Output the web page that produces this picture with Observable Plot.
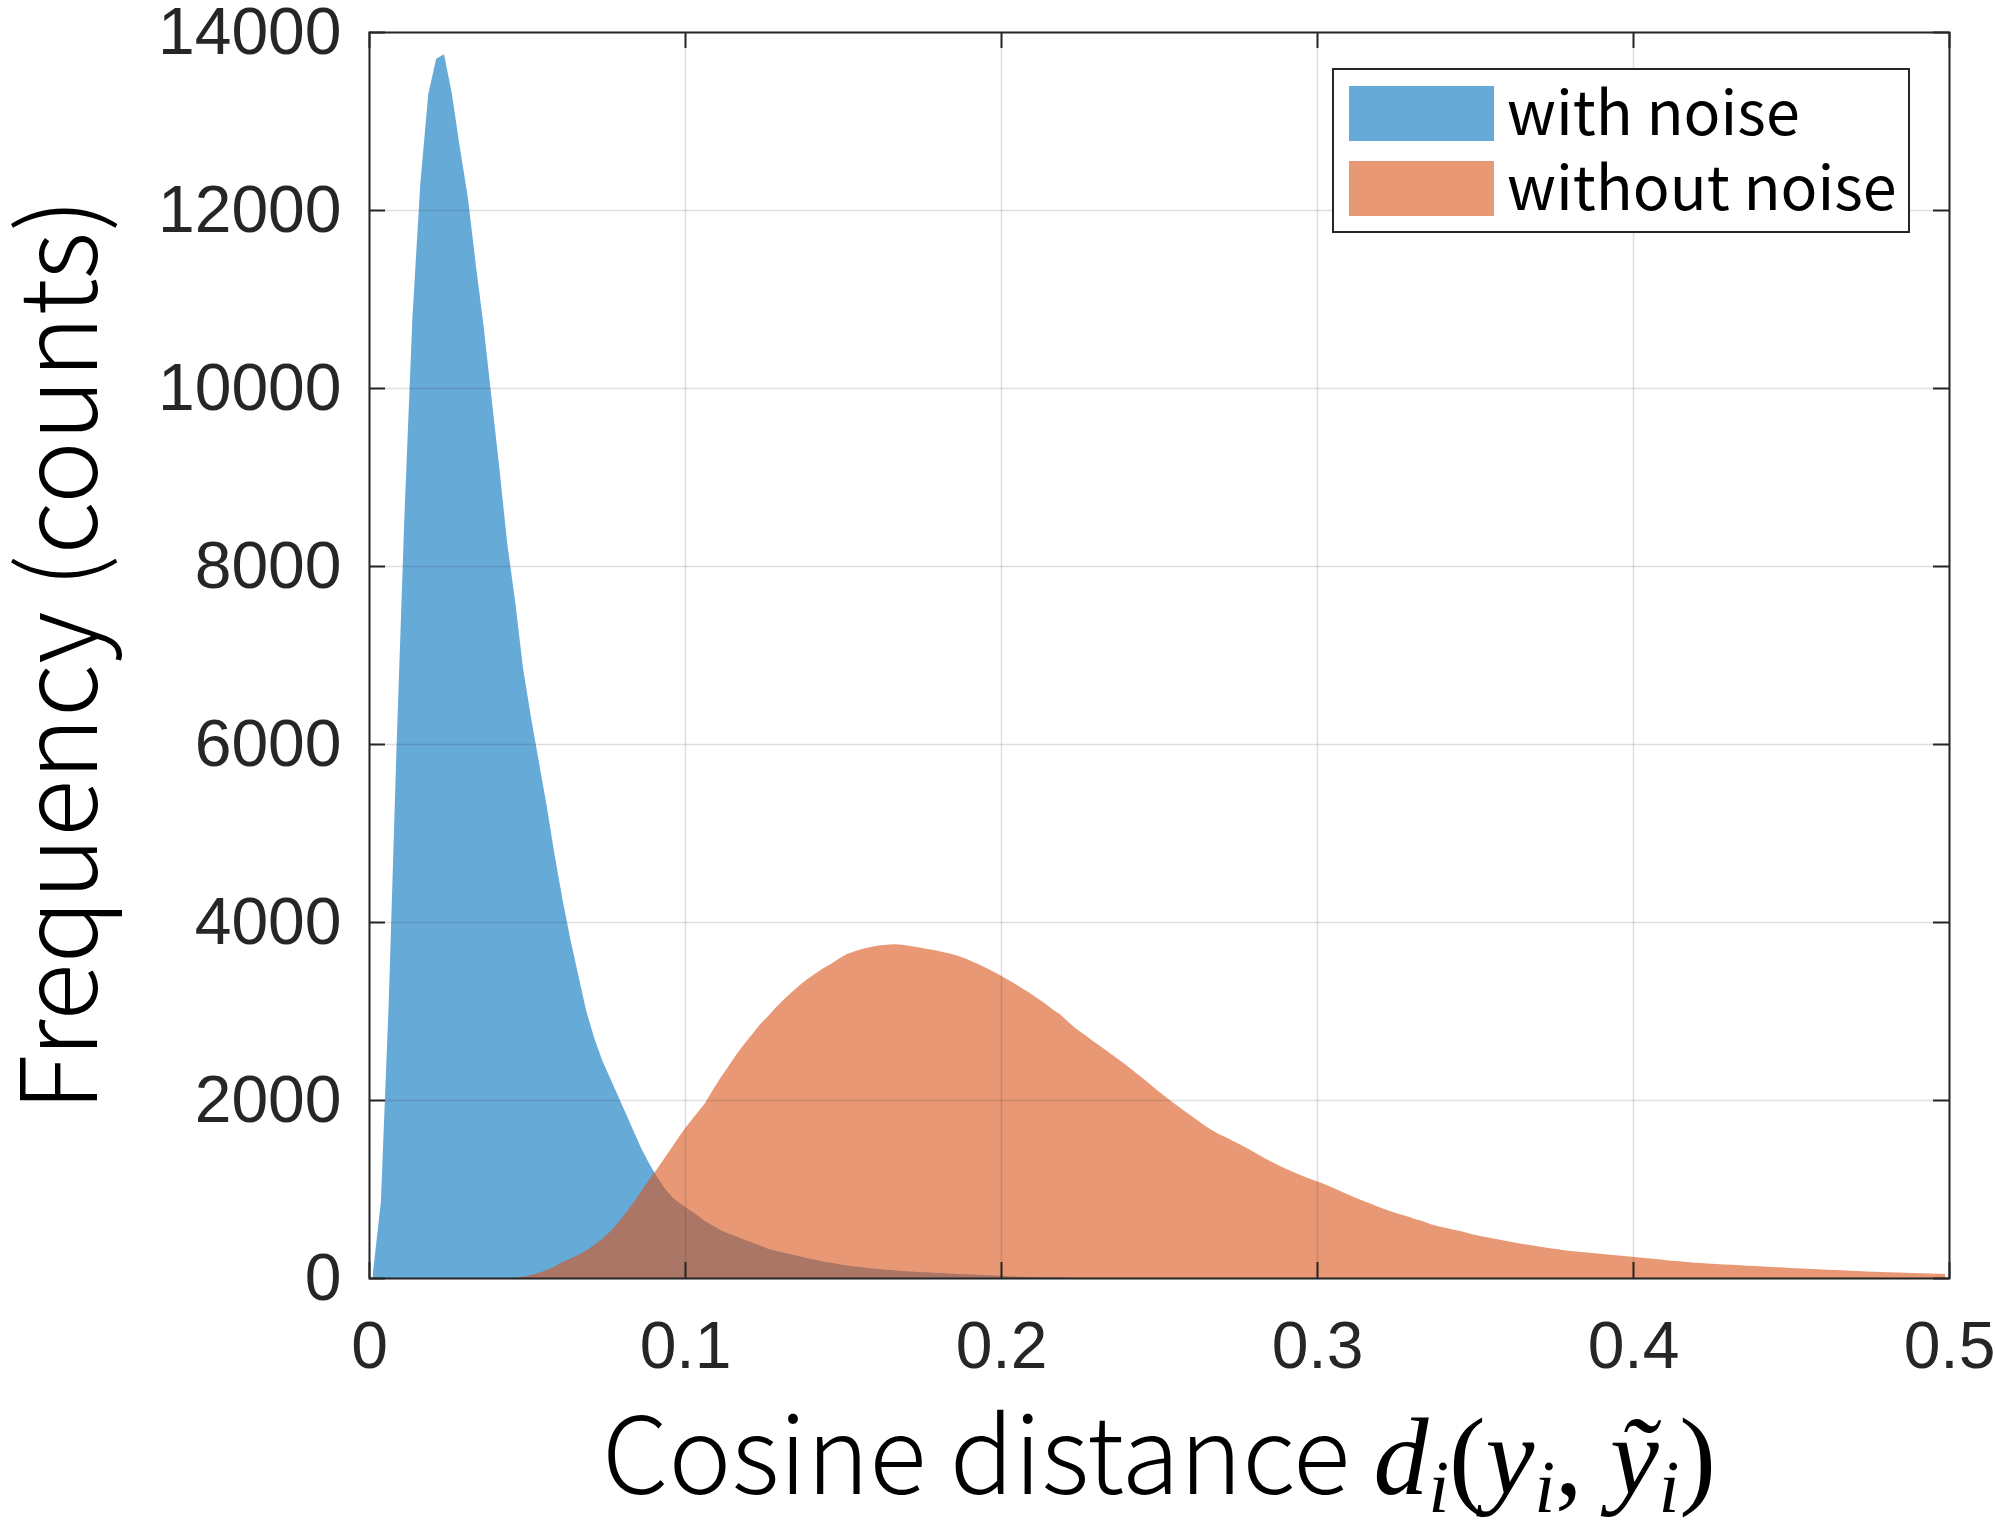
<!DOCTYPE html>
<html>
<head>
<meta charset="utf-8">
<script src="https://cdn.jsdelivr.net/npm/d3@7"></script>
<script src="https://cdn.jsdelivr.net/npm/@observablehq/plot@0.6"></script>
<style>
  html, body { margin: 0; padding: 0; background: #fff; overflow: hidden; }
</style>
</head>
<body>
<div id="chart"></div>
<script>
// ---------------- data ----------------
const binWidth = 0.0025; // histogram bin width in cosine distance

// counts per bin, bin i covers [i*binWidth, (i+1)*binWidth)
const withNoise = [
  60, 850, 3100, 6000, 8600, 10800, 12300, 13300, 13700, 13750,
  13300, 12700, 12150, 11400, 10700, 9900, 9100, 8250, 7600, 6850,
  6300, 5800, 5300, 4750, 4250, 3800, 3400, 3000, 2700, 2450,
  2250, 2050, 1850, 1650, 1450, 1280, 1130, 1000, 900, 830,
  770, 710, 640, 590, 540, 500, 465, 430, 400, 365,
  330, 305, 285, 265, 245, 222, 205, 185, 170, 155,
  140, 130, 120, 110, 100, 92, 86, 80, 74, 68,
  64, 60, 55, 50, 46, 42, 38, 34, 30, 26,
  22, 18, 15, 12, 10, 8, 6, 5, 4, 3,
  2
];

const withoutNoise = [
  0, 0, 0, 0, 0, 0, 0, 0, 0, 0,
  0, 0, 0, 0, 0, 0, 0, 0, 0, 15,
  35, 60, 90, 130, 180, 220, 260, 310, 370, 440,
  520, 620, 730, 850, 980, 1110, 1230, 1360, 1490, 1620,
  1740, 1850, 1960, 2110, 2250, 2380, 2510, 2630, 2740, 2850,
  2940, 3040, 3130, 3210, 3290, 3360, 3420, 3480, 3530, 3590,
  3640, 3670, 3700, 3720, 3735, 3745, 3750, 3745, 3730, 3715,
  3700, 3685, 3665, 3645, 3620, 3590, 3550, 3510, 3465, 3420,
  3370, 3320, 3265, 3210, 3150, 3090, 3020, 2960, 2880, 2800,
  2740, 2670, 2610, 2545, 2480, 2415, 2345, 2275, 2205, 2130,
  2060, 1990, 1925, 1860, 1795, 1730, 1670, 1620, 1580, 1535,
  1490, 1440, 1390, 1340, 1295, 1250, 1210, 1170, 1135, 1100,
  1070, 1035, 995, 955, 915, 880, 845, 810, 775, 745,
  715, 690, 660, 635, 600, 580, 560, 540, 520, 495,
  475, 458, 440, 425, 408, 390, 376, 362, 348, 335,
  322, 310, 300, 292, 284, 275, 266, 258, 250, 242,
  234, 225, 216, 207, 198, 190, 182, 175, 168, 162,
  157, 152, 148, 143, 138, 134, 128, 124, 120, 115,
  110, 106, 102, 98, 94, 90, 86, 82, 78, 74,
  71, 68, 64, 61, 58, 55, 52, 50, 48, 45
];

const seriesNames = ["with noise", "without noise"];
const seriesColors = ["#0072BD", "#D95319"];
const xTicks = [0, 0.1, 0.2, 0.3, 0.4, 0.5];
const yTicks = [0, 2000, 4000, 6000, 8000, 10000, 12000, 14000];
const xLabelText = "Cosine distance ";
const yLabelText = "Frequency (counts)";

// ---------------- layout ----------------
const W = 1995, H = 1525;
const mL = 369, mR = 46, mT = 32, mB = 247;
const innerW = W - mL - mR, innerH = H - mT - mB;
const tickLen = 16;
const axisColor = "#262626";

const toRows = (arr) => {
  const rows = arr.map((v, i) => ({ d: (i + 0.5) * binWidth, count: v }));
  const first = rows.findIndex(r => r.count > 0);
  return rows.slice(Math.max(0, first - 1));
};

const plot = Plot.plot({
  width: W, height: H,
  marginLeft: mL, marginRight: mR, marginTop: mT, marginBottom: mB,
  x: { domain: [0, 0.5] },
  y: { domain: [0, 14000] },
  style: {
    fontFamily: "'Liberation Sans', Arial, sans-serif",
    fontSize: "66px",
    color: axisColor,
    background: "#fff",
    overflow: "visible"
  },
  marks: [
    Plot.areaY(toRows(withNoise), { x: "d", y: "count", fill: seriesColors[0], fillOpacity: 0.6, curve: "linear" }),
    Plot.areaY(toRows(withoutNoise), { x: "d", y: "count", fill: seriesColors[1], fillOpacity: 0.6, curve: "linear" }),
    Plot.ruleX(xTicks, { x: d => d, stroke: axisColor, strokeOpacity: 0.15, strokeWidth: 1.5 }),
    Plot.ruleY(yTicks, { y: d => d, stroke: axisColor, strokeOpacity: 0.15, strokeWidth: 1.5 }),
    Plot.tickX(xTicks, { x: d => d, insetTop: innerH - tickLen, stroke: axisColor, strokeWidth: 2 }),
    Plot.tickX(xTicks, { x: d => d, insetBottom: innerH - tickLen, stroke: axisColor, strokeWidth: 2 }),
    Plot.tickY(yTicks, { y: d => d, insetRight: innerW - tickLen, stroke: axisColor, strokeWidth: 2 }),
    Plot.tickY(yTicks, { y: d => d, insetLeft: innerW - tickLen, stroke: axisColor, strokeWidth: 2 }),
    Plot.frame({ stroke: axisColor, strokeWidth: 2 }),
    Plot.axisX(xTicks, { anchor: "bottom", tickSize: 0, tickPadding: 43, tickFormat: d => String(d), label: null, fill: axisColor }),
    Plot.axisY(yTicks, { anchor: "left", tickSize: 0, tickPadding: 28, tickFormat: d => String(d), label: null, fill: axisColor })
  ]
});

document.getElementById("chart").appendChild(plot);

// ---------------- axis titles & legend ----------------
const svg = d3.select(plot);
const labelFont = "'Noto Sans CJK JP', 'Noto Sans', sans-serif";
const mathFont = "'Liberation Serif', 'DejaVu Serif', serif";

svg.append("text")
  .attr("transform", `translate(97,${mT + innerH / 2}) rotate(-90)`)
  .attr("text-anchor", "middle")
  .attr("font-family", labelFont)
  .attr("font-weight", 300)
  .attr("font-size", 106)
  .attr("fill", "#000")
  .text(yLabelText);

const xt = svg.append("text")
  .attr("x", mL + innerW / 2)
  .attr("y", 1494)
  .attr("text-anchor", "middle")
  .attr("font-family", labelFont)
  .attr("font-weight", 300)
  .attr("font-size", 106)
  .attr("fill", "#000");
xt.append("tspan").text(xLabelText);
const mathParts = [
  { t: "d", it: true }, { t: "i", it: true, sub: true },
  { t: "(" }, { t: "y", it: true }, { t: "i", it: true, sub: true },
  { t: ", " }, { t: "\u1EF9", it: true }, { t: "i", it: true, sub: true },
  { t: ")" }
];
let shifted = false;
for (const p of mathParts) {
  const ts = xt.append("tspan")
    .attr("font-family", mathFont)
    .attr("font-style", p.it ? "italic" : "normal")
    .attr("font-weight", 400)
    .attr("font-size", p.sub ? 74 : 110)
    .text(p.t);
  if (p.sub && !shifted) { ts.attr("dy", 18); shifted = true; }
  else if (!p.sub && shifted) { ts.attr("dy", -18); shifted = false; }
}

const lg = svg.append("g").attr("text-anchor", "start");
lg.append("rect")
  .attr("x", 1333).attr("y", 69).attr("width", 576).attr("height", 163)
  .attr("fill", "#fff").attr("stroke", axisColor).attr("stroke-width", 2);
seriesNames.forEach((name, i) => {
  lg.append("rect")
    .attr("x", 1349).attr("y", 86 + i * 75).attr("width", 145).attr("height", 55)
    .attr("fill", seriesColors[i]).attr("fill-opacity", 0.6);
  lg.append("text")
    .attr("x", 1507).attr("y", 135 + i * 75)
    .attr("text-anchor", "start")
    .attr("font-family", labelFont)
    .attr("font-size", 61)
    .attr("fill", "#000")
    .text(name);
});
</script>
</body>
</html>
